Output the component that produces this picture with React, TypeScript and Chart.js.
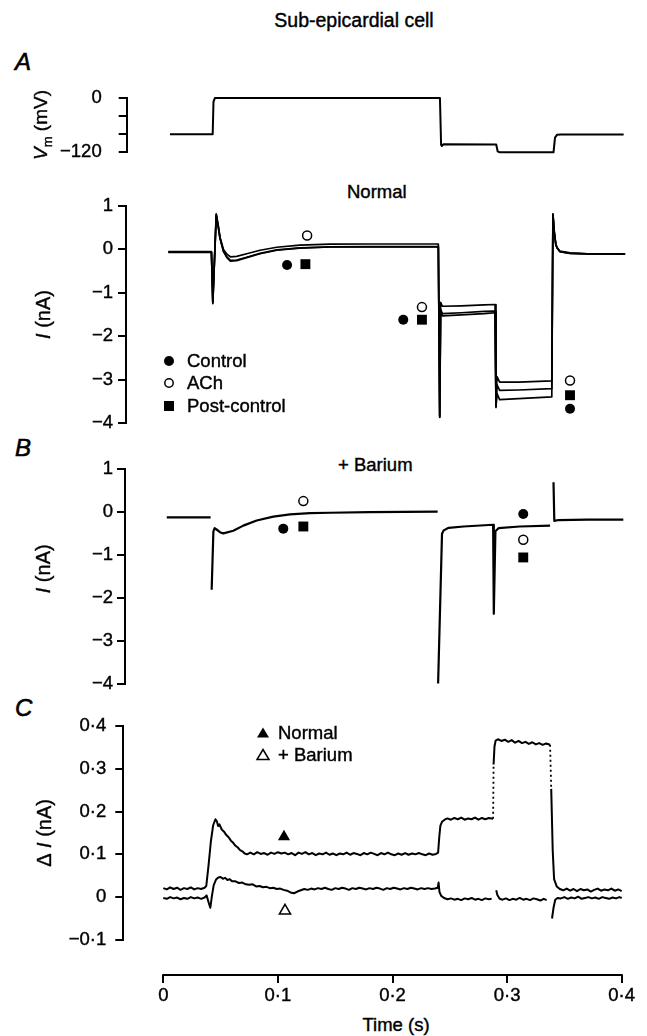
import React, { useEffect, useRef } from 'react';
import { Chart, registerables } from 'chart.js';

Chart.register(...registerables);

type Pt = [number, number] | null;

// ---------------- data ----------------
const timeTicks = [0, 0.1, 0.2, 0.3, 0.4];
const timeTickLabels = ['0', '0·1', '0·2', '0·3', '0·4'];

const vmTicks = [0, -40, -80, -120];
const vmTickLabels = ['0', '', '', '−120'];
const vmTrace: Pt[] = [
  [0.0058, -80.5], [0.0431, -80.5], [0.0438, -8], [0.045, 0], [0.2414, 0], [0.2424, -104], [0.243, -107],
  [0.2445, -103], [0.2905, -103.5], [0.2918, -119], [0.2935, -121], [0.3405, -121], [0.3418, -88],
  [0.3435, -82], [0.347, -81.3], [0.4017, -81.3],
];

const iTicks = [1, 0, -1, -2, -3, -4];
const iTickLabels = ['1', '0', '−1', '−2', '−3', '−4'];

const controlA: Pt[] = [
  [0.0044, -0.06], [0.042, -0.06], [0.0432, -1.25], [0.0462, 0.8], [0.048, 0.52], [0.0495, 0.26], [0.0525, -0.05],
  [0.0555, -0.19], [0.0585, -0.27], [0.064, -0.26], [0.0728, -0.19], [0.0844, -0.1], [0.099, -0.02], [0.119, 0.03],
  [0.1455, 0.06], [0.18, 0.065], [0.21, 0.065], [0.24, 0.065],
  [0.2412, -3.87], [0.242, -1.4], [0.2435, -1.53], [0.26, -1.51], [0.28, -1.48], [0.2895, -1.46],
  [0.2903, -3.64], [0.2912, -3.32], [0.2935, -3.46], [0.31, -3.44], [0.339, -3.4],
  [0.34, 0.82], [0.3412, 0.4], [0.3425, 0.12], [0.3435, 0.04], [0.346, -0.05], [0.355, -0.09], [0.37, -0.105], [0.403, -0.11],
];
const achA: Pt[] = [
  [0.0044, -0.05], [0.042, -0.05], [0.0432, -1.22], [0.0462, 0.82], [0.048, 0.55], [0.0495, 0.28], [0.0525, 0.0],
  [0.0555, -0.11], [0.0585, -0.17], [0.064, -0.16], [0.0728, -0.1], [0.0844, -0.02], [0.099, 0.05], [0.119, 0.1],
  [0.1455, 0.12], [0.18, 0.125], [0.21, 0.125], [0.24, 0.125],
  [0.2412, -3.84], [0.242, -1.22], [0.2435, -1.31], [0.26, -1.3], [0.28, -1.28], [0.2895, -1.27],
  [0.2903, -3.58], [0.2912, -2.93], [0.2935, -3.06], [0.31, -3.06], [0.339, -3.03],
  [0.34, 0.8], [0.3412, 0.38], [0.3425, 0.12], [0.3435, 0.05], [0.346, -0.04], [0.355, -0.08], [0.37, -0.1], [0.403, -0.1],
];
const postA: Pt[] = [
  [0.0044, -0.07], [0.042, -0.07], [0.0432, -1.23], [0.0462, 0.78], [0.048, 0.5], [0.0495, 0.25], [0.0525, -0.04],
  [0.0555, -0.17], [0.0585, -0.25], [0.064, -0.245], [0.0728, -0.18], [0.0844, -0.09], [0.099, -0.01], [0.119, 0.035],
  [0.1455, 0.055], [0.18, 0.06], [0.21, 0.06], [0.24, 0.06],
  [0.2412, -3.86], [0.242, -1.38], [0.2435, -1.48], [0.26, -1.46], [0.28, -1.43], [0.2895, -1.42],
  [0.2903, -3.62], [0.2912, -3.12], [0.2935, -3.25], [0.31, -3.24], [0.339, -3.21],
  [0.34, 0.81], [0.3412, 0.39], [0.3425, 0.11], [0.3435, 0.04], [0.346, -0.05], [0.355, -0.09], [0.37, -0.105], [0.403, -0.105],
];
const controlMarksA: Pt[] = [[0.108, -0.36], [0.2094, -1.62], [0.3549, -3.67]];
const achMarksA: Pt[] = [[0.1255, 0.32], [0.2257, -1.33], [0.3549, -3.02]];
const postMarksA: Pt[] = [[0.124, -0.34], [0.2257, -1.62], [0.3549, -3.36]];

const bariumTrace: Pt[] = [
  [0.003, -0.12], [0.0413, -0.12], null,
  [0.0422, -1.8], [0.0437, -0.45], [0.0448, -0.37], [0.0465, -0.4], [0.05, -0.47], [0.0524, -0.49], [0.0611, -0.43],
  [0.0698, -0.31], [0.0815, -0.19], [0.096, -0.1], [0.1106, -0.05], [0.128, -0.02], [0.1455, -0.01], [0.18, 0.005],
  [0.21, 0.01], [0.2394, 0.015], null,
  [0.2398, -3.98], [0.2432, -0.5], [0.2447, -0.42], [0.249, -0.36], [0.262, -0.33], [0.2878, -0.29],
  [0.2884, -2.36], [0.2898, -0.44], [0.2925, -0.37], [0.311, -0.33], [0.3375, -0.31], null,
  [0.3405, 0.7], [0.3412, -0.2], [0.345, -0.18], [0.37, -0.17], [0.4014, -0.17],
];
const controlMarksB: Pt[] = [[0.1047, -0.38], [0.3141, -0.04]];
const achMarksB: Pt[] = [[0.1222, 0.26], [0.3141, -0.64]];
const postMarksB: Pt[] = [[0.1222, -0.33], [0.3141, -1.05]];

const dTicks = [0.4, 0.3, 0.2, 0.1, 0, -0.1];
const dTickLabels = ['0·4', '0·3', '0·2', '0·1', '0', '−0·1'];

const normalDelta: Pt[] = [
  [0, 0.021], [0.003, 0.018], [0.006, 0.023], [0.009, 0.019], [0.012, 0.022], [0.015, 0.017], [0.018, 0.021],
  [0.021, 0.019], [0.024, 0.023], [0.027, 0.018], [0.03, 0.021], [0.033, 0.019], [0.036, 0.022],
  [0.0375, 0.026], [0.0395, 0.075], [0.0415, 0.13], [0.0435, 0.168], [0.0455, 0.182], [0.0468, 0.177],
  [0.0478, 0.166], [0.049, 0.17], [0.051, 0.158], [0.053, 0.153], [0.055, 0.145], [0.057, 0.14], [0.059, 0.132],
  [0.061, 0.127], [0.063, 0.12], [0.065, 0.116], [0.067, 0.11], [0.069, 0.107], [0.071, 0.102], [0.073, 0.1],
  [0.076, 0.104], [0.079, 0.1], [0.082, 0.105], [0.085, 0.101], [0.088, 0.103], [0.091, 0.099], [0.094, 0.104],
  [0.097, 0.101], [0.1, 0.105], [0.103, 0.102], [0.106, 0.104], [0.109, 0.1], [0.112, 0.103], [0.115, 0.098],
  [0.118, 0.104], [0.121, 0.101], [0.124, 0.105], [0.127, 0.1], [0.13, 0.103], [0.133, 0.098], [0.136, 0.102],
  [0.139, 0.1], [0.142, 0.104], [0.145, 0.099], [0.148, 0.102], [0.151, 0.098], [0.154, 0.102], [0.157, 0.1],
  [0.16, 0.104], [0.163, 0.099], [0.166, 0.103], [0.169, 0.101], [0.172, 0.098], [0.175, 0.103], [0.178, 0.1],
  [0.181, 0.104], [0.184, 0.101], [0.187, 0.098], [0.19, 0.103], [0.193, 0.1], [0.196, 0.104], [0.199, 0.1],
  [0.202, 0.098], [0.205, 0.102], [0.208, 0.099], [0.211, 0.103], [0.214, 0.099], [0.217, 0.102], [0.22, 0.1],
  [0.223, 0.103], [0.226, 0.1], [0.229, 0.098], [0.232, 0.102], [0.235, 0.099], [0.238, 0.101],
  [0.2398, 0.104], [0.2408, 0.14], [0.2418, 0.167], [0.2432, 0.176], [0.2455, 0.181], [0.248, 0.184],
  [0.251, 0.181], [0.254, 0.185], [0.257, 0.182], [0.26, 0.186], [0.263, 0.181], [0.266, 0.184], [0.269, 0.182],
  [0.272, 0.186], [0.275, 0.181], [0.278, 0.185], [0.281, 0.182], [0.284, 0.185], [0.2878, 0.183], null,
  [0.2882, 0.31], [0.289, 0.352], [0.29, 0.366], [0.292, 0.369], [0.295, 0.365], [0.298, 0.368], [0.301, 0.363],
  [0.304, 0.367], [0.307, 0.361], [0.31, 0.365], [0.313, 0.36], [0.316, 0.363], [0.319, 0.358], [0.322, 0.362],
  [0.325, 0.357], [0.328, 0.36], [0.331, 0.356], [0.334, 0.359], [0.3375, 0.356], null,
  [0.3385, 0.253], [0.3398, 0.109], [0.341, 0.042], [0.3433, 0.025], [0.346, 0.019], [0.349, 0.016], [0.352, 0.02],
  [0.355, 0.015], [0.358, 0.019], [0.361, 0.014], [0.364, 0.019], [0.367, 0.016], [0.37, 0.018], [0.373, 0.013],
  [0.376, 0.017], [0.379, 0.02], [0.382, 0.015], [0.385, 0.018], [0.388, 0.016], [0.391, 0.02], [0.394, 0.015],
  [0.397, 0.018], [0.4, 0.014],
];
const normalDeltaJumps: Pt[] = [[0.2878, 0.183], [0.2882, 0.31], null, [0.3375, 0.356], [0.3385, 0.253]];

const bariumDelta: Pt[] = [
  [0, -0.002], [0.003, -0.004], [0.006, 0.0], [0.009, -0.003], [0.012, -0.001], [0.015, -0.005], [0.018, -0.002],
  [0.021, -0.004], [0.024, 0.0], [0.027, -0.003], [0.03, -0.001], [0.033, -0.004], [0.036, -0.001], [0.0378, 0.004],
  [0.0395, -0.012], [0.041, -0.025], [0.0425, 0.004], [0.044, 0.028], [0.046, 0.041], [0.048, 0.046], [0.05, 0.047],
  [0.052, 0.043], [0.054, 0.045], [0.056, 0.04], [0.058, 0.042], [0.06, 0.037], [0.063, 0.037], [0.066, 0.033],
  [0.069, 0.034], [0.072, 0.03], [0.075, 0.029], [0.078, 0.03], [0.081, 0.025], [0.084, 0.026], [0.087, 0.023],
  [0.09, 0.024], [0.093, 0.021], [0.096, 0.022], [0.099, 0.019], [0.102, 0.02], [0.105, 0.017], [0.108, 0.015],
  [0.111, 0.011], [0.114, 0.009], [0.117, 0.013], [0.12, 0.016], [0.123, 0.019], [0.126, 0.017], [0.129, 0.02],
  [0.132, 0.018], [0.135, 0.021], [0.138, 0.019], [0.141, 0.022], [0.144, 0.019], [0.147, 0.017], [0.15, 0.021],
  [0.153, 0.019], [0.156, 0.022], [0.159, 0.02], [0.162, 0.017], [0.165, 0.021], [0.168, 0.019], [0.171, 0.022],
  [0.174, 0.02], [0.177, 0.018], [0.18, 0.021], [0.183, 0.019], [0.186, 0.022], [0.189, 0.02], [0.192, 0.017],
  [0.195, 0.021], [0.198, 0.019], [0.201, 0.022], [0.204, 0.02], [0.207, 0.018], [0.21, 0.021], [0.213, 0.019],
  [0.216, 0.022], [0.219, 0.02], [0.222, 0.018], [0.225, 0.021], [0.228, 0.019], [0.231, 0.021], [0.234, 0.019],
  [0.237, 0.02], [0.2395, 0.022], [0.2402, 0.034], [0.241, 0.012], [0.2425, 0.003], [0.245, -0.002], [0.248, -0.005],
  [0.251, -0.003], [0.254, -0.006], [0.257, -0.004], [0.26, -0.007], [0.263, -0.003], [0.266, -0.005], [0.269, -0.002],
  [0.272, -0.006], [0.275, -0.004], [0.278, -0.007], [0.281, -0.003], [0.284, -0.005], [0.2865, -0.004], null,
  [0.2905, 0.016], [0.2915, 0.005], [0.2935, -0.004], [0.296, -0.006], [0.299, -0.003], [0.302, -0.007], [0.305, -0.004],
  [0.308, -0.006], [0.311, -0.002], [0.314, -0.006], [0.317, -0.004], [0.32, -0.007], [0.323, -0.003], [0.326, -0.005],
  [0.329, -0.008], [0.332, -0.004], [0.3345, -0.007], null,
  [0.3392, -0.05], [0.3405, -0.025], [0.342, -0.006], [0.344, -0.002], [0.347, -0.003], [0.35, 0.0], [0.353, -0.004],
  [0.356, -0.001], [0.359, -0.003], [0.362, 0.001], [0.365, -0.004], [0.368, -0.002], [0.371, 0.0], [0.374, -0.003],
  [0.377, -0.001], [0.38, -0.004], [0.383, 0.0], [0.386, -0.002], [0.389, -0.004], [0.392, -0.001], [0.395, -0.003],
  [0.398, 0.0], [0.4, -0.002],
];
const normalMarkC: Pt[] = [[0.1053, 0.141]];
const bariumMarkC: Pt[] = [[0.1062, -0.032]];

// ---------------- layout / helpers ----------------
const FONT = '"Liberation Sans", Arial, sans-serif';
const TICK_SIZE = 18.5;
const TEXT_SIZE = 18.5;
const PAGE_W = 647;
const X0_PX = 163.3;
const X1_PX = 621.7;
const X_MAX = 0.4;
const xMinFor = (left: number) => -((X0_PX - left) / (X1_PX - X0_PX)) * X_MAX;

const labelFor = (vals: number[], labs: string[], v: number) => {
  const i = vals.findIndex((t) => Math.abs(t - v) < 1e-9);
  return i >= 0 ? labs[i] : '';
};

const toXY = (pts: Pt[]) => {
  let lastX = 0;
  return pts.map((p) => {
    if (p) {
      lastX = p[0];
      return { x: p[0], y: p[1] };
    }
    return { x: lastX, y: null };
  });
};

const trace = (label: string, pts: Pt[], width = 2, dash?: number[]) => ({
  type: 'line',
  label,
  data: toXY(pts),
  borderColor: '#000',
  borderWidth: width,
  borderDash: dash || [],
  borderCapStyle: 'butt',
  borderJoinStyle: 'round',
  pointRadius: 0,
  pointHoverRadius: 0,
  fill: false,
  tension: 0,
  spanGaps: false,
  clip: false,
});

const marks = (label: string, pts: Pt[], style: string, radius: number, filled: boolean) => ({
  type: 'line',
  label,
  data: toXY(pts),
  showLine: false,
  pointStyle: style,
  pointRadius: radius,
  pointHoverRadius: radius,
  pointBackgroundColor: filled ? '#000' : '#fff',
  pointBorderColor: '#000',
  pointBorderWidth: filled ? 0 : 1.5,
  clip: false,
});

type Seg = { text: string; italic?: boolean; sub?: boolean };

function drawRotated(ctx: any, segs: Seg[], cx: number, cy: number, size: number) {
  ctx.save();
  ctx.translate(cx, cy);
  ctx.rotate(-Math.PI / 2);
  ctx.textBaseline = 'middle';
  ctx.textAlign = 'left';
  ctx.fillStyle = '#000';
  ctx.strokeStyle = '#000';
  ctx.lineWidth = 0.4;
  const fontFor = (s: Seg) => `${s.italic ? 'italic ' : ''}${s.sub ? Math.round(size * 0.68) : size}px ${FONT}`;
  let total = 0;
  const widths = segs.map((s) => {
    ctx.font = fontFor(s);
    const w = ctx.measureText(s.text).width;
    total += w;
    return w;
  });
  let x = -total / 2;
  segs.forEach((s, i) => {
    ctx.font = fontFor(s);
    const yy = s.sub ? size * 0.32 : 0;
    ctx.fillText(s.text, x, yy);
    ctx.strokeText(s.text, x, yy);
    x += widths[i];
  });
  ctx.restore();
}

function drawMarker(ctx: any, kind: string, x: number, y: number) {
  ctx.save();
  ctx.fillStyle = '#000';
  ctx.strokeStyle = '#000';
  ctx.lineWidth = 1.5;
  ctx.beginPath();
  if (kind === 'dot') {
    ctx.arc(x, y, 5, 0, Math.PI * 2);
    ctx.fill();
  } else if (kind === 'ring') {
    ctx.arc(x, y, 4.2, 0, Math.PI * 2);
    ctx.stroke();
  } else if (kind === 'square') {
    ctx.rect(x - 5, y - 5, 10, 10);
    ctx.fill();
  } else if (kind === 'tri' || kind === 'triOpen') {
    ctx.moveTo(x, y - 5.5);
    ctx.lineTo(x + 6, y + 4.5);
    ctx.lineTo(x - 6, y + 4.5);
    ctx.closePath();
    if (kind === 'tri') ctx.fill();
    else ctx.stroke();
  }
  ctx.restore();
}

type LegendSpec = { markerX: number; textX: number; rows: { kind: string; label: string; y: number }[] };

const tickFont = { family: FONT, size: TICK_SIZE };

function panelConfig(spec: any) {
  const {
    height, plotTop, plotBottom, axisLeft, yMin, yMax, ticks, labels, labelPad,
    title, titleX, titleDy = 0, titleSize = 20, datasets, legend,
  } = spec;
  const plugins: any[] = [
    {
      id: 'yTitle',
      afterDraw(chart: any) {
        const { ctx, chartArea } = chart;
        drawRotated(ctx, title, titleX, (chartArea.top + chartArea.bottom) / 2 + titleDy, titleSize);
      },
    },
  ];
  if (legend) {
    const lg: LegendSpec = legend;
    plugins.push({
      id: 'customLegend',
      afterDraw(chart: any) {
        const ctx = chart.ctx;
        lg.rows.forEach((r) => {
          drawMarker(ctx, r.kind, lg.markerX, r.y);
          ctx.save();
          ctx.fillStyle = '#000';
          ctx.strokeStyle = '#000';
          ctx.lineWidth = 0.4;
          ctx.font = `${TEXT_SIZE}px ${FONT}`;
          ctx.textBaseline = 'middle';
          ctx.textAlign = 'left';
          ctx.fillText(r.label, lg.textX, r.y + 1);
          ctx.strokeText(r.label, lg.textX, r.y + 1);
          ctx.restore();
        });
      },
    });
  }
  return {
    type: 'line',
    data: { datasets },
    options: {
      responsive: false,
      maintainAspectRatio: false,
      animation: false,
      devicePixelRatio: 1,
      events: [],
      layout: { padding: { left: 0, right: PAGE_W - X1_PX, top: plotTop, bottom: height - plotBottom } },
      plugins: { legend: { display: false }, tooltip: { enabled: false } },
      scales: {
        x: { type: 'linear', display: false, min: xMinFor(axisLeft), max: X_MAX },
        y: {
          type: 'linear',
          min: yMin,
          max: yMax,
          afterFit: (s: any) => {
            s.width = axisLeft;
          },
          afterBuildTicks: (s: any) => {
            s.ticks = ticks.map((v: number) => ({ value: v }));
          },
          border: { display: true, color: '#000', width: 2 },
          grid: { drawOnChartArea: false, drawTicks: true, tickLength: 8, color: '#000', lineWidth: 2 },
          ticks: {
            autoSkip: false,
            padding: labelPad,
            color: '#000',
            textStrokeColor: '#000',
            textStrokeWidth: 0.4,
            font: tickFont,
            callback: (v: any) => labelFor(ticks, labels, Number(v)),
          },
        },
      },
    },
    plugins,
  };
}

function xAxisConfig(height: number, plotBottom: number, axisLeft: number) {
  return {
    type: 'line',
    data: { datasets: [] },
    options: {
      responsive: false,
      maintainAspectRatio: false,
      animation: false,
      devicePixelRatio: 1,
      events: [],
      layout: { padding: { left: axisLeft, right: PAGE_W - X1_PX, top: plotBottom - 10, bottom: 0 } },
      plugins: { legend: { display: false }, tooltip: { enabled: false } },
      scales: {
        y: { type: 'linear', display: false, min: 0, max: 1 },
        x: {
          type: 'linear',
          position: 'bottom',
          min: xMinFor(axisLeft),
          max: X_MAX,
          afterFit: (s: any) => {
            s.height = height - plotBottom;
          },
          afterBuildTicks: (s: any) => {
            s.ticks = timeTicks.map((v) => ({ value: v }));
          },
          border: { display: false },
          grid: { drawOnChartArea: false, drawTicks: true, tickLength: 8, color: '#000', lineWidth: 2 },
          ticks: {
            autoSkip: false,
            maxRotation: 0,
            padding: 2,
            color: '#000',
            textStrokeColor: '#000',
            textStrokeWidth: 0.4,
            font: tickFont,
            callback: (v: any) => labelFor(timeTicks, timeTickLabels, Number(v)),
          },
        },
      },
    },
    plugins: [
      {
        id: 'xBaseline',
        afterDraw(chart: any) {
          const { ctx, chartArea, scales } = chart;
          const xs = scales.x;
          ctx.save();
          ctx.strokeStyle = '#000';
          ctx.lineWidth = 2;
          ctx.beginPath();
          ctx.moveTo(xs.getPixelForValue(timeTicks[0]) - 1, chartArea.bottom);
          ctx.lineTo(xs.getPixelForValue(timeTicks[timeTicks.length - 1]) + 1, chartArea.bottom);
          ctx.stroke();
          ctx.restore();
        },
      },
    ],
  };
}

function ChartCanvas({ top, height, config }: { top: number; height: number; config: () => any }) {
  const ref = useRef<HTMLCanvasElement>(null);
  useEffect(() => {
    const chart = new Chart(ref.current as HTMLCanvasElement, config());
    return () => chart.destroy();
  }, []);
  return (
    <canvas
      ref={ref}
      width={PAGE_W}
      height={height}
      style={{ position: 'absolute', left: 0, top, width: PAGE_W, height, display: 'block' }}
    />
  );
}

const txt = (x: number, y: number, size = TEXT_SIZE, extra: any = {}): any => ({
  position: 'absolute',
  left: x,
  top: y,
  transform: 'translateY(-50%)',
  fontFamily: FONT,
  fontSize: size,
  lineHeight: 1,
  whiteSpace: 'pre',
  color: '#000',
  WebkitTextStroke: '0.4px #000',
  ...extra,
});

export default function App() {
  const vmCfg = () =>
    panelConfig({
      height: 110, plotTop: 19, plotBottom: 85, axisLeft: 126.7, yMin: -120, yMax: 0,
      ticks: vmTicks, labels: vmTickLabels, labelPad: 17,
      title: [{ text: 'V', italic: true }, { text: 'm', sub: true }, { text: ' (mV)' }], titleX: 42, titleSize: 19,
      datasets: [trace('Vm', vmTrace, 2)],
    });

  const aCfg = () =>
    panelConfig({
      height: 260, plotTop: 26, plotBottom: 243, axisLeft: 126, yMin: -4, yMax: 1,
      ticks: iTicks, labels: iTickLabels, labelPad: 5,
      title: [{ text: 'I', italic: true }, { text: ' (nA)' }], titleX: 44,
      datasets: [
        trace('Control', controlA, 1.7),
        trace('ACh', achA, 1.7),
        trace('Post-control', postA, 1.7),
        marks('Control marks', controlMarksA, 'circle', 5, true),
        marks('ACh marks', achMarksA, 'circle', 4.5, false),
        marks('Post-control marks', postMarksA, 'rect', 7, true),
      ],
      legend: {
        markerX: 169, textX: 187,
        rows: [
          { kind: 'dot', label: 'Control', y: 181 },
          { kind: 'ring', label: 'ACh', y: 203 },
          { kind: 'square', label: 'Post-control', y: 226 },
        ],
      },
    });

  const bCfg = () =>
    panelConfig({
      height: 260, plotTop: 29.3, plotBottom: 244.3, axisLeft: 125, yMin: -4, yMax: 1,
      ticks: iTicks, labels: iTickLabels, labelPad: 4,
      title: [{ text: 'I', italic: true }, { text: ' (nA)' }], titleX: 44, titleDy: -8,
      datasets: [
        trace('Barium', bariumTrace, 2.2),
        marks('Control marks', controlMarksB, 'circle', 5, true),
        marks('ACh marks', achMarksB, 'circle', 4.5, false),
        marks('Post-control marks', postMarksB, 'rect', 7, true),
      ],
    });

  const cCfg = () =>
    panelConfig({
      height: 260, plotTop: 26, plotBottom: 244.3, axisLeft: 123.3, yMin: -0.1, yMax: 0.4,
      ticks: dTicks, labels: dTickLabels, labelPad: 9,
      title: [{ text: 'Δ ' }, { text: 'I', italic: true }, { text: ' (nA)' }], titleX: 45,
      datasets: [
        trace('Normal', normalDelta, 2),
        trace('Normal jumps', normalDeltaJumps, 1.8, [2, 3]),
        trace('+ Barium', bariumDelta, 2),
        marks('Normal mark', normalMarkC, 'triangle', 7, true),
        marks('Barium mark', bariumMarkC, 'triangle', 6.5, false),
      ],
      legend: {
        markerX: 263, textX: 278,
        rows: [
          { kind: 'tri', label: 'Normal', y: 33 },
          { kind: 'triOpen', label: '+ Barium', y: 55 },
        ],
      },
    });

  const xCfg = () => xAxisConfig(76, 15, 125);

  const letter = { fontStyle: 'italic', WebkitTextStroke: '0.6px #000' };

  return (
    <div
      style={{
        position: 'absolute', left: 0, top: 0, width: PAGE_W, height: 1036,
        background: '#fff', overflow: 'hidden',
      }}
    >
      <div style={txt(354, 21, 19.5, { transform: 'translate(-50%, -50%)' })}>Sub-epicardial cell</div>
      <div style={txt(15, 62, 24, letter)}>A</div>
      <div style={txt(15, 448, 24, letter)}>B</div>
      <div style={txt(15, 708, 24, letter)}>C</div>
      <div style={txt(347, 192)}>Normal</div>
      <div style={txt(338, 465)}>+ Barium</div>
      <div style={txt(396, 1025, TEXT_SIZE, { transform: 'translate(-50%, -50%)' })}>Time (s)</div>
      <ChartCanvas top={70} height={110} config={vmCfg} />
      <ChartCanvas top={180} height={260} config={aCfg} />
      <ChartCanvas top={440} height={260} config={bCfg} />
      <ChartCanvas top={700} height={260} config={cCfg} />
      <ChartCanvas top={960} height={76} config={xCfg} />
    </div>
  );
}
